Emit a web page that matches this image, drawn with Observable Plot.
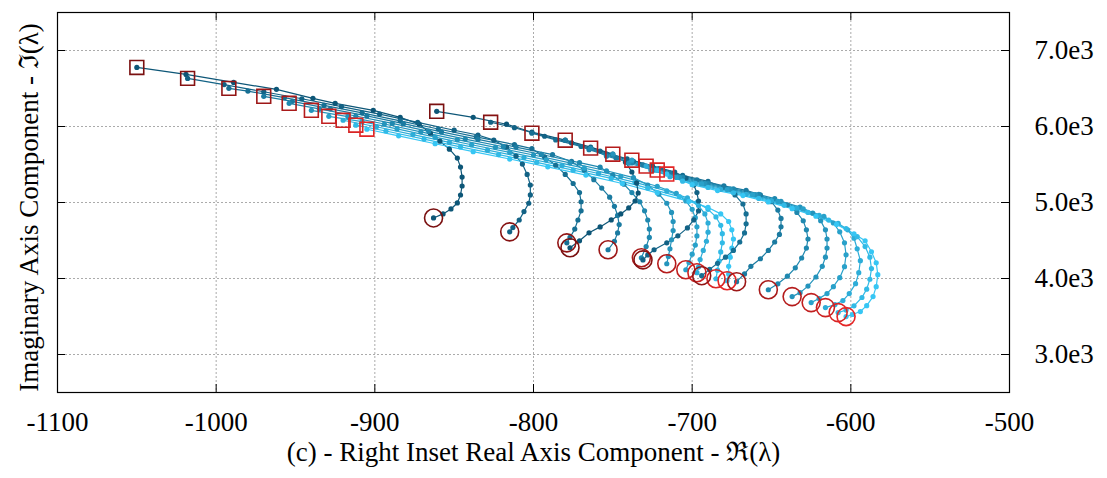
<!DOCTYPE html>
<html>
<head>
<meta charset="utf-8">
<script src="https://cdn.jsdelivr.net/npm/d3@7"></script>
<script src="https://cdn.jsdelivr.net/npm/@observablehq/plot@0.6"></script>
<style>
  html, body { margin: 0; padding: 0; background: #fff; }
  #chart { width: 1107px; height: 478px; }
</style>
</head>
<body>
<div id="chart"></div>
<script>
// Axis ticks
const xTicks = [-1100, -1000, -900, -800, -700, -600, -500];
const yTicks = [3000, 4000, 5000, 6000, 7000];

// Eigenvalue loci, first family (starting on the far-left branch), [Re, Im]
const lociA = [
  [[-1050,6777],[-1019,6685],[-989,6580],[-962,6489],[-939,6371],[-925,6305],[-901,6213],[-884,6120],[-872,6030],[-865,5912],[-859,5807],[-853,5702],[-848,5584],[-846,5466],[-845,5335],[-845,5217],[-846,5099],[-848,4994],[-852,4915],[-857,4850],[-863,4797]],
  [[-1018,6633],[-995,6552],[-970,6457],[-946,6365],[-921,6262],[-897,6163],[-873,6054],[-850,5951],[-835,5888],[-825,5820],[-817,5730],[-811,5610],[-807,5505],[-804,5370],[-802,5230],[-802,5100],[-803,4990],[-806,4880],[-809,4770],[-813,4670],[-815,4614]],
  [[-992,6502],[-980,6466],[-957,6379],[-932,6278],[-908,6180],[-884,6075],[-860,5967],[-836,5863],[-812,5762],[-801,5708],[-793,5600],[-786,5490],[-780,5370],[-775,5250],[-771,5130],[-770,5010],[-770,4890],[-772,4770],[-774,4650],[-777,4540],[-779,4469]],
  [[-970,6397],[-952,6331],[-928,6233],[-905,6139],[-882,6037],[-858,5929],[-835,5830],[-811,5729],[-788,5629],[-776,5540],[-768,5425],[-762,5300],[-757,5190],[-752,5070],[-749,4950],[-747,4830],[-746,4710],[-747,4600],[-749,4490],[-753,4378]],
  [[-954,6305],[-935,6233],[-912,6138],[-889,6040],[-866,5936],[-843,5835],[-819,5734],[-795,5632],[-771,5524],[-758,5465],[-750,5360],[-743,5240],[-738,5130],[-733,5010],[-730,4890],[-728,4770],[-727,4650],[-727,4540],[-729,4420],[-732,4273]],
  [[-940,6213],[-917,6130],[-894,6033],[-871,5930],[-848,5827],[-824,5726],[-800,5625],[-777,5522],[-754,5418],[-737,5327],[-728,5230],[-721,5110],[-716,4990],[-713,4870],[-712,4750],[-712,4630],[-713,4510],[-714,4390],[-715,4290],[-716,4194]],
  [[-929,6134],[-908,6064],[-886,5968],[-862,5860],[-839,5760],[-815,5659],[-792,5560],[-768,5452],[-745,5343],[-722,5214],[-710,5120],[-704,5020],[-700,4910],[-698,4800],[-697,4680],[-697,4560],[-698,4440],[-700,4320],[-702,4210],[-704,4115]],
  [[-920,6082],[-899,5997],[-876,5894],[-853,5790],[-829,5689],[-806,5592],[-782,5486],[-759,5382],[-736,5264],[-716,5152],[-703,5060],[-696,4960],[-692,4850],[-690,4730],[-690,4610],[-691,4490],[-693,4370],[-695,4250],[-696,4150],[-697,4076]],
  [[-912,6017],[-893,5941],[-869,5834],[-846,5731],[-822,5630],[-798,5529],[-775,5425],[-751,5317],[-728,5190],[-708,5078],[-697,5000],[-690,4910],[-685,4810],[-682,4700],[-681,4590],[-681,4470],[-682,4350],[-683,4230],[-684,4110],[-685,3997]],
  [[-905,5964],[-885,5877],[-862,5773],[-838,5669],[-815,5572],[-791,5469],[-767,5361],[-744,5250],[-722,5127],[-702,5015],[-690,4935],[-682,4850],[-677,4750],[-675,4640],[-674,4520],[-675,4400],[-676,4280],[-677,4160],[-677,4060],[-678,3971]]
];

// Eigenvalue loci, second family (starting on the upper branch), [Re, Im]
const lociB = [
  [[-861,6200],[-838,6121],[-817,6030],[-801,5925],[-780,5820],[-764,5728],[-750,5636],[-742,5531],[-738,5401],[-735,5257],[-734,5125],[-736,5020],[-740,4928],[-745,4850],[-751,4771],[-758,4679],[-765,4601],[-771,4496],[-777,4404]],
  [[-827,6056],[-812,5984],[-793,5872],[-776,5784],[-758,5676],[-741,5575],[-725,5483],[-711,5400],[-704,5320],[-699,5230],[-697,5130],[-696,5020],[-696,4889],[-699,4771],[-703,4666],[-709,4561],[-716,4470],[-724,4378],[-728,4310],[-731,4245]],
  [[-801,5912],[-786,5824],[-770,5737],[-754,5636],[-737,5540],[-721,5446],[-706,5358],[-690,5277],[-680,5200],[-673,5100],[-668,4980],[-666,4850],[-666,4720],[-667,4600],[-670,4480],[-674,4370],[-679,4280],[-684,4200],[-689,4120],[-694,4037]],
  [[-780,5820],[-765,5695],[-748,5586],[-731,5494],[-714,5391],[-697,5298],[-680,5218],[-666,5160],[-657,5100],[-650,5010],[-646,4900],[-644,4790],[-644,4680],[-645,4580],[-648,4480],[-652,4370],[-657,4260],[-663,4160],[-667,4060],[-672,3958]],
  [[-764,5715],[-754,5610],[-738,5520],[-722,5426],[-706,5332],[-690,5251],[-674,5180],[-658,5106],[-648,5050],[-640,4970],[-634,4870],[-630,4760],[-628,4640],[-627,4520],[-628,4400],[-631,4270],[-635,4140],[-640,4030],[-646,3930],[-652,3852]],
  [[-750,5636],[-740,5517],[-724,5425],[-708,5331],[-692,5248],[-676,5175],[-660,5104],[-644,5015],[-632,4940],[-624,4860],[-619,4760],[-616,4640],[-615,4520],[-615,4400],[-616,4280],[-618,4160],[-622,4020],[-627,3900],[-632,3814],[-637,3762]],
  [[-738,5557],[-726,5424],[-710,5329],[-694,5244],[-678,5171],[-662,5102],[-646,5014],[-630,4915],[-617,4819],[-611,4730],[-607,4614],[-604,4470],[-603,4312],[-604,4155],[-607,4011],[-611,3893],[-615,3801],[-620,3736],[-625,3683]],
  [[-729,5479],[-714,5339],[-698,5251],[-682,5174],[-666,5108],[-650,5023],[-634,4927],[-620,4830],[-608,4726],[-602,4640],[-598,4530],[-596,4391],[-594,4234],[-595,4076],[-597,3932],[-601,3801],[-605,3709],[-610,3657],[-616,3617]],
  [[-722,5427],[-706,5280],[-690,5199],[-674,5128],[-658,5054],[-642,4963],[-627,4870],[-614,4769],[-603,4658],[-596,4550],[-591,4420],[-588,4280],[-587,4130],[-588,3990],[-590,3860],[-593,3750],[-598,3640],[-603,3585],[-608,3551]],
  [[-716,5374],[-700,5234],[-684,5157],[-668,5091],[-652,5008],[-637,4919],[-622,4819],[-609,4711],[-598,4589],[-591,4496],[-587,4352],[-584,4207],[-583,4050],[-584,3893],[-586,3762],[-590,3643],[-594,3565],[-599,3526],[-603,3499]]
];

const xLabel = "(c) - Right Inset Real Axis Component - \u211C(\u03BB)";
const yLabel = "Imaginary Axis Component - \u2111(\u03BB)";

// Line colour runs from dark teal to light cyan within each family;
// start (square) and end (circle) markers run from dark to bright red.
const lineColor = d3.interpolateRgb("#0d5677", "#36c6f4");
const markColor = d3.interpolateRgb("#7a1010", "#e42626");

const rows = [];
[["A", lociA], ["B", lociB]].forEach(([fam, loci]) => {
  loci.forEach((pts, k) => {
    const t = k / (loci.length - 1);
    pts.forEach(([x, y], i) => {
      rows.push({
        id: fam + k, x, y,
        color: lineColor(t),
        mark: markColor(t),
        first: i === 0,
        last: i === pts.length - 1
      });
    });
  });
});
const starts = rows.filter(d => d.first);
const ends = rows.filter(d => d.last);

const W = 1107, H = 478;
const mL = 57, mR = 98, mT = 12, mB = 86;
const frameW = W - mL - mR, frameH = H - mT - mB;
const font = "'Liberation Serif', 'Times New Roman', serif";
const fs = 27;

const chart = Plot.plot({
  width: W,
  height: H,
  marginLeft: mL,
  marginRight: mR,
  marginTop: mT,
  marginBottom: mB,
  style: { fontFamily: font, fontSize: fs + "px", background: "#fff", color: "#000" },
  x: { domain: [-1100, -500], axis: null },
  y: { domain: [2500, 7500], axis: null },
  color: { type: "identity" },
  marks: [
    Plot.gridX(xTicks, { stroke: "#ababab", strokeOpacity: 1, strokeWidth: 1, strokeDasharray: "2,2" }),
    Plot.gridY(yTicks, { stroke: "#ababab", strokeOpacity: 1, strokeWidth: 1, strokeDasharray: "2,2" }),
    // inward tick marks on all four sides
    Plot.tickX(xTicks, { x: d => d, insetTop: frameH - 8, stroke: "#000", strokeWidth: 1 }),
    Plot.tickX(xTicks, { x: d => d, insetBottom: frameH - 8, stroke: "#000", strokeWidth: 1 }),
    Plot.tickY(yTicks, { y: d => d, insetLeft: frameW - 8, stroke: "#000", strokeWidth: 1 }),
    Plot.tickY(yTicks, { y: d => d, insetRight: frameW - 8, stroke: "#000", strokeWidth: 1 }),
    Plot.line(rows, { x: "x", y: "y", z: "id", stroke: "color", strokeWidth: 1.2 }),
    Plot.dot(rows, { x: "x", y: "y", r: 2.6, fill: "color", stroke: null }),
    Plot.dot(starts, { x: "x", y: "y", symbol: "square", r: 7.8, stroke: "mark", fill: "none", strokeWidth: 1.6 }),
    Plot.dot(ends, { x: "x", y: "y", r: 9, stroke: "mark", fill: "none", strokeWidth: 1.6 }),
    Plot.frame({ stroke: "#000", strokeWidth: 1.2 }),
    Plot.axisX(xTicks, { anchor: "bottom", tickSize: 0, tickPadding: 19, tickFormat: d => String(d), label: null, fontSize: fs }),
    Plot.axisY(yTicks, { anchor: "right", tickSize: 0, tickPadding: 25, tickFormat: d => (d / 1000).toFixed(1) + "e3", label: null, fontSize: fs }),
    Plot.text([xLabel], { text: d => d, frameAnchor: "bottom", dy: 60, fontSize: fs, lineAnchor: "middle", textAnchor: "middle" }),
    Plot.text([yLabel], { text: d => d, frameAnchor: "left", dx: -28, dy: 5, rotate: -90, fontSize: fs, lineAnchor: "middle", textAnchor: "middle" })
  ]
});

document.getElementById("chart").appendChild(chart);
</script>
</body>
</html>
